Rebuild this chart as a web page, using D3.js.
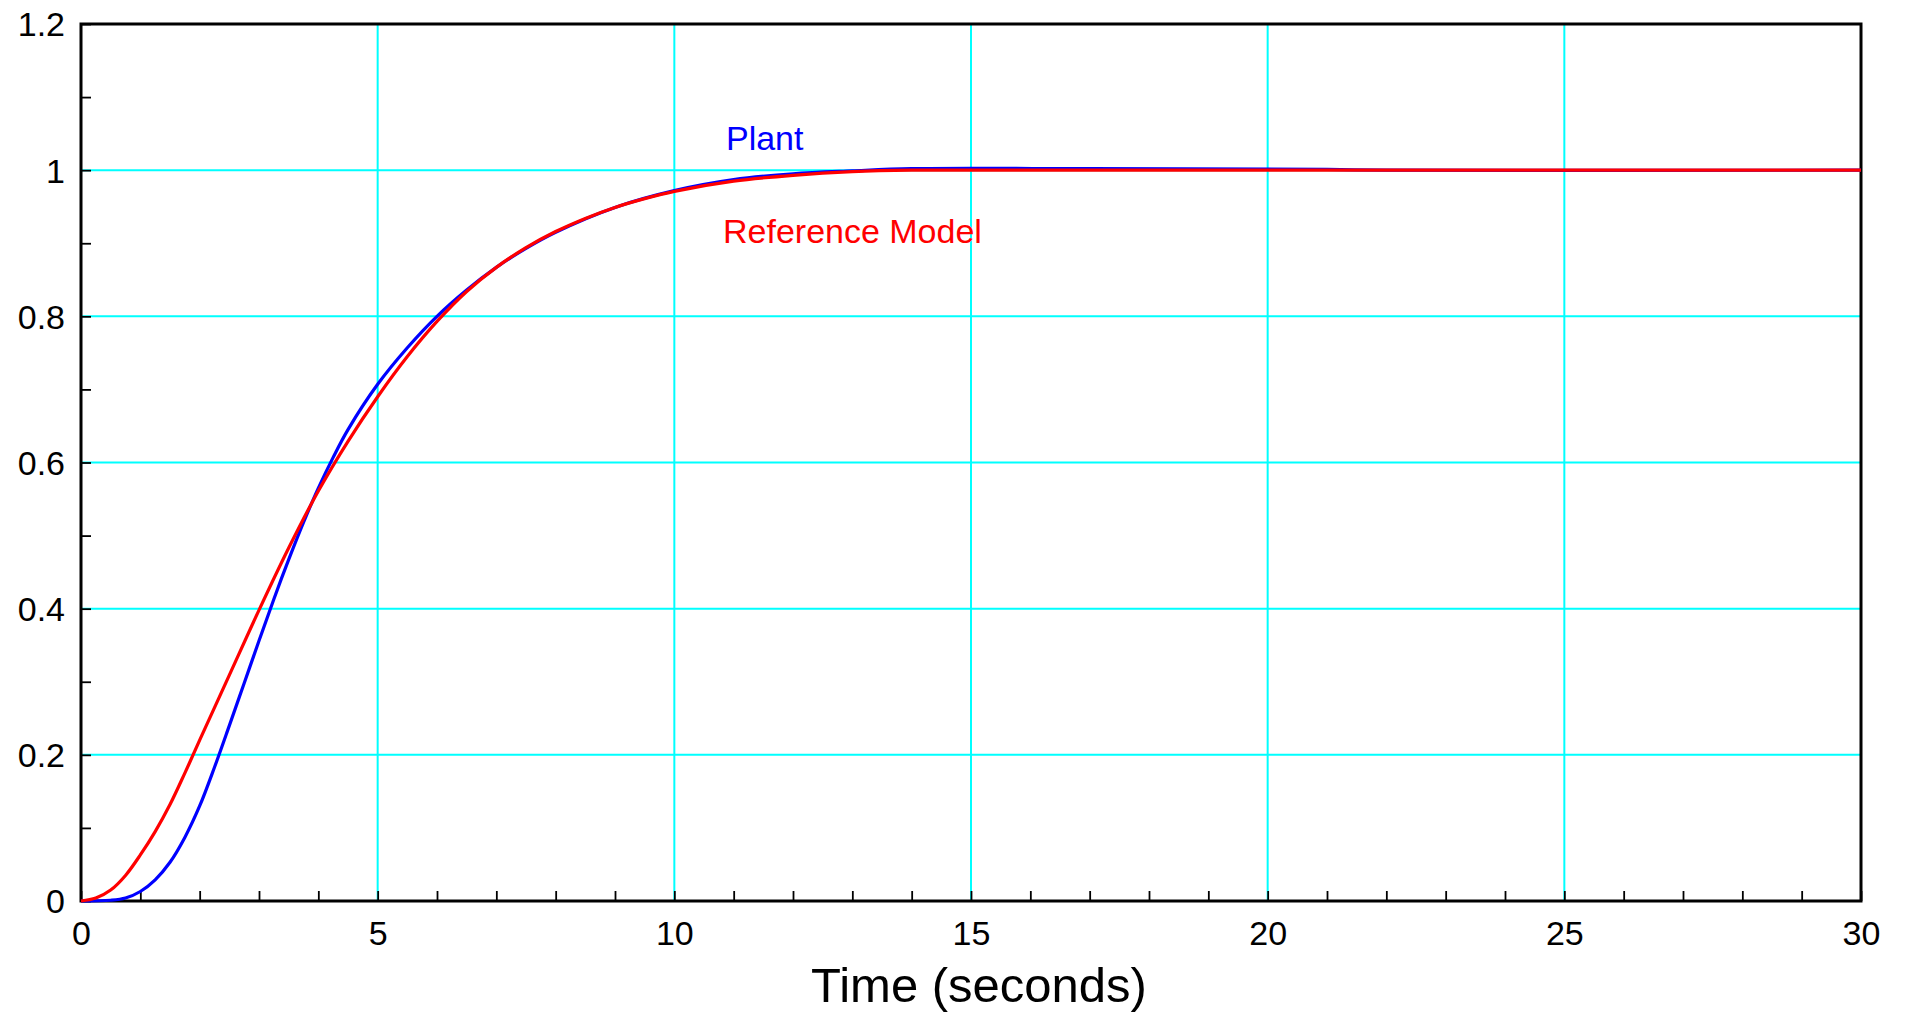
<!DOCTYPE html>
<html>
<head>
<meta charset="utf-8">
<style>
    body { margin: 0; background: #fff; }
    svg { display: block; font-family: "Liberation Sans", Arial, sans-serif; }
    .axis .domain { display: none; }
    .axis .tick line { stroke: #000; stroke-width: 1.8; }
    .axis .tick text { font-size: 34px; fill: #000; }
</style>
</head>
<body>
<svg width="1906" height="1018"></svg>

<script src="https://d3js.org/d3.v7.min.js"></script>
<script>
    // time (s) and response values
    const refTime = [0, 0.25, 0.5, 0.75, 1, 1.25, 1.5, 1.75, 2, 2.5, 3, 3.5, 4, 4.5, 5, 5.5, 6, 6.5, 7, 7.5, 8, 8.5, 9, 9.5, 10, 11, 12, 13, 14, 20, 30];
    const refValue = [0, 0.004, 0.015, 0.035, 0.063, 0.095, 0.132, 0.175, 0.22, 0.309, 0.398, 0.483, 0.561, 0.629, 0.69, 0.745, 0.793, 0.834, 0.867, 0.894, 0.916, 0.934, 0.949, 0.961, 0.971, 0.985, 0.993, 0.998, 1.0, 1.0, 1.0];

    const plantTime = [0, 0.5, 0.75, 1, 1.25, 1.5, 1.75, 2, 2.25, 2.5, 2.75, 3, 3.25, 3.5, 3.75, 4, 4.25, 4.5, 5, 5.5, 6, 6.5, 7, 7.5, 8, 9, 10, 11, 12, 13, 14, 17, 21, 22, 30];
    const plantValue = [0, 0.001, 0.004, 0.013, 0.029, 0.053, 0.087, 0.13, 0.183, 0.24, 0.298, 0.356, 0.413, 0.467, 0.518, 0.565, 0.607, 0.645, 0.707, 0.757, 0.8, 0.836, 0.867, 0.893, 0.915, 0.949, 0.972, 0.987, 0.995, 0.999, 1.002, 1.002, 1.001, 1.0, 1.0];

    const xMajor = [0, 5, 10, 15, 20, 25, 30];
    const xLabels = ["0", "5", "10", "15", "20", "25", "30"];
    const yMajor = [0, 0.2, 0.4, 0.6, 0.8, 1, 1.2];
    const yLabels = ["0", "0.2", "0.4", "0.6", "0.8", "1", "1.2"];

    const margin = { top: 24, right: 45, bottom: 117, left: 81 };
    const width = 1906, height = 1018;

    const svg = d3.select("svg");

    const x = d3.scaleLinear().domain([0, 30]).range([margin.left, width - margin.right]);
    const y = d3.scaleLinear().domain([0, 1.2]).range([height - margin.bottom, margin.top]);

    // grid
    svg.append("g")
        .selectAll("line")
        .data(xMajor.slice(1, -1))
        .join("line")
        .attr("x1", d => x(d)).attr("x2", d => x(d))
        .attr("y1", y(0)).attr("y2", y(1.2))
        .attr("stroke", "#00ffff").attr("stroke-width", 2);

    svg.append("g")
        .selectAll("line")
        .data(yMajor.slice(1, -1))
        .join("line")
        .attr("x1", x(0)).attr("x2", x(30))
        .attr("y1", d => y(d)).attr("y2", d => y(d))
        .attr("stroke", "#00ffff").attr("stroke-width", 2);

    // x axis, minor ticks every second, labels on majors
    svg.append("g")
        .attr("class", "axis")
        .attr("transform", `translate(0,${y(0)})`)
        .call(d3.axisBottom(x)
            .tickValues(d3.range(0, 31))
            .tickSize(-10)
            .tickPadding(20)
            .tickFormat(d => {
                const i = xMajor.indexOf(d);
                return i >= 0 ? xLabels[i] : "";
            }));

    svg.append("g")
        .attr("class", "axis")
        .attr("transform", `translate(${x(0)},0)`)
        .call(d3.axisLeft(y)
            .tickValues(d3.range(0, 13).map(i => i / 10))
            .tickSize(-10)
            .tickPadding(16)
            .tickFormat(d => {
                const i = yMajor.findIndex(v => Math.abs(v - d) < 1e-9);
                return i >= 0 ? yLabels[i] : "";
            }))
        .call(g => g.selectAll(".tick text").attr("dy", "0.35em"));

    // frame
    svg.append("rect")
        .attr("x", x(0)).attr("y", y(1.2))
        .attr("width", x(30) - x(0)).attr("height", y(0) - y(1.2))
        .attr("fill", "none").attr("stroke", "#000").attr("stroke-width", 3);

    // lines
    const line = d3.line()
        .x(d => x(d[0]))
        .y(d => y(d[1]))
        .curve(d3.curveCatmullRom.alpha(0.5));

    svg.append("path")
        .datum(d3.zip(plantTime, plantValue))
        .attr("d", line)
        .attr("fill", "none").attr("stroke", "#0000ff").attr("stroke-width", 3.2);

    svg.append("path")
        .datum(d3.zip(refTime, refValue))
        .attr("d", line)
        .attr("fill", "none").attr("stroke", "#ff0000").attr("stroke-width", 3.2);

    // labels
    svg.append("text")
        .attr("x", x(10.87)).attr("y", y(1.028))
        .style("font-size", "34px").style("fill", "#0000ff")
        .text("Plant");

    svg.append("text")
        .attr("x", x(10.82)).attr("y", y(0.9))
        .style("font-size", "34px").style("fill", "#ff0000")
        .text("Reference Model");

    svg.append("text")
        .attr("x", (x(0) + x(30)) / 2 + 8)
        .attr("y", 1002)
        .attr("text-anchor", "middle")
        .style("font-size", "49px").style("fill", "#000")
        .text("Time (seconds)");
</script>
</body>
</html>
